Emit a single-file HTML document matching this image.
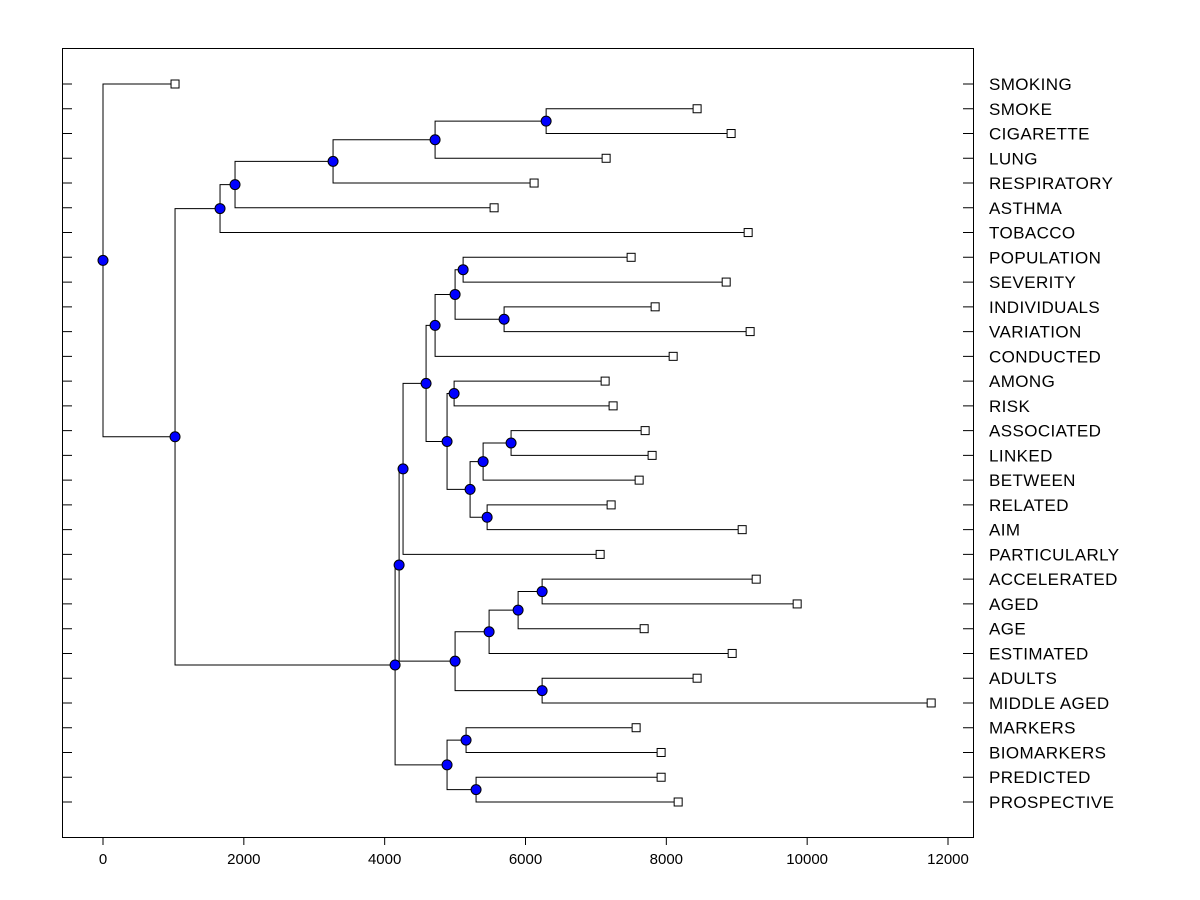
<!DOCTYPE html>
<html><head><meta charset="utf-8"><style>
body{margin:0;background:#fff;}
svg{display:block;font-family:"Liberation Sans",Arial,sans-serif;}
</style></head><body>
<svg id="chart" width="1200" height="900" viewBox="0 0 1200 900">
<rect x="62.5" y="48.5" width="911" height="789" fill="#fff" stroke="#000" stroke-width="1"/>
<g id="ticks"></g><g id="links"></g><g id="marks"></g><g id="labels"></g>
</svg>
<script>
const leafNames = ["SMOKING","SMOKE","CIGARETTE","LUNG","RESPIRATORY","ASTHMA","TOBACCO","POPULATION","SEVERITY","INDIVIDUALS","VARIATION","CONDUCTED","AMONG","RISK","ASSOCIATED","LINKED","BETWEEN","RELATED","AIM","PARTICULARLY","ACCELERATED","AGED","AGE","ESTIMATED","ADULTS","MIDDLE AGED","MARKERS","BIOMARKERS","PREDICTED","PROSPECTIVE"];
const leafValues = [1023,8437,8920,7145,6122,5554,9162,7500,8850,7841,9190,8097,7131,7244,7699,7798,7614,7216,9077,7060,9276,9858,7685,8935,8437,11761,7571,7926,7926,8168];
const nodeValues = [
 ["N4",6293,1,2],["N3",4716,"N4",3],["N2",3267,"N3",4],["N1",1875,"N2",5],["A",1662,"N1",6],
 ["K",5114,7,8],["L",5696,9,10],["J",5000,"K","L"],["H",4716,"J",11],
 ["M",4986,12,13],["Q",5795,14,15],["O",5398,"Q",16],["P",5455,17,18],["N",5213,"O","P"],["I",4886,"M","N"],
 ["G",4588,"H","I"],["C",4261,"G",19],
 ["U",6236,20,21],["T",5895,"U",22],["R",5483,"T",23],["S",6236,24,25],["F",5000,"R","S"],["E",4205,"C","F"],
 ["V",5156,26,27],["W",5298,28,29],["D",4886,"V","W"],["B",4148,"E","D"],
 ["BIG",1023,"A","B"],["ROOT",0,0,"BIG"]
];
const xTicks=[0,2000,4000,6000,8000,10000,12000];
const NS="http://www.w3.org/2000/svg";
const X=v=>103+v*(845/12000);
const Y=i=>84+i*(718/29);
function mk(tag,attrs,parent){const e=document.createElementNS(NS,tag);for(const k in attrs)e.setAttribute(k,attrs[k]);document.getElementById(parent).appendChild(e);return e;}
const pos={};
leafNames.forEach((n,i)=>{pos[i]={x:X(leafValues[i]),y:Y(i)};});
const nodeList=[];
nodeValues.forEach(nd=>{const a=pos[nd[2]],b=pos[nd[3]];const p={x:X(nd[1]),y:(a.y+b.y)/2};pos[nd[0]]=p;
 const path=mk("path",{d:`M${a.x},${a.y}H${p.x}V${b.y}H${b.x}`,fill:"none",stroke:"#000","stroke-width":1},"links");
 
 
 nodeList.push([nd[0],p]);});
nodeList.forEach(([n,p])=>{const c=mk("circle",{cx:p.x,cy:p.y,r:5,fill:"#0000ff",stroke:"#000","stroke-width":1},"marks");
 
 });
leafNames.forEach((n,i)=>{const p=pos[i];
 const r=mk("rect",{x:p.x-4,y:p.y-4,width:8,height:8,fill:"#fff",stroke:"#000","stroke-width":1},"marks");
 
 
 const t=mk("text",{x:989,y:p.y+6,"font-size":17,"letter-spacing":"0.4",fill:"#000"},"labels");t.textContent=n;
 
 
 const tl=mk("path",{d:`M62,${p.y}H72M963,${p.y}H973`,stroke:"#000","stroke-width":1},"ticks");
 
 });
xTicks.forEach(v=>{const x=X(v);
 const tk=mk("path",{d:`M${x},837V845`,stroke:"#000","stroke-width":1},"ticks");
 
 
 const t=mk("text",{x:x,y:864,"font-size":15,"text-anchor":"middle",fill:"#000"},"labels");t.textContent=v;
 
 });
</script>
</body></html>
